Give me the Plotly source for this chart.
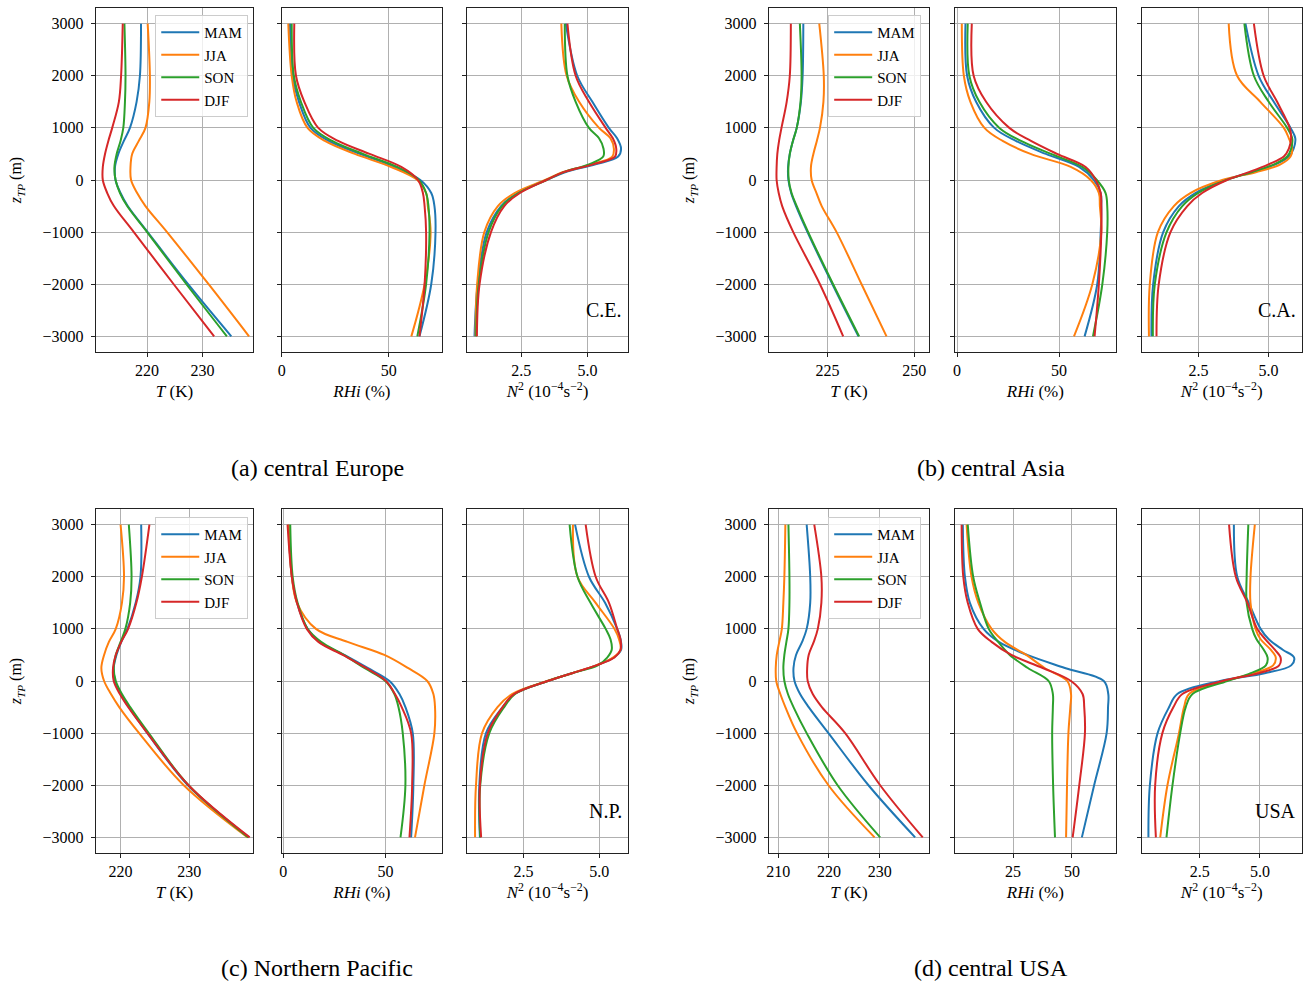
import plotly.graph_objects as go

W, H = 1307, 982
SEASONS = ["MAM", "JJA", "SON", "DJF"]
COLORS = ["#1f77b4", "#ff7f0e", "#2ca02c", "#d62728"]

# heights relative to the thermal tropopause (m)
Z = [-3000, -2000, -1000, -500, -250, 0, 250, 500, 750, 1000, 1500, 2000, 3000]
ZN = [-3000, -2000, -1000, -500, -250, 0, 150, 300, 450, 600, 800, 1000, 1500, 2000, 3000]

# ---------------- (a) central Europe ----------------
T_CE = {
    "MAM": [235.2, 227.4, 220.1, 216.5, 215.2, 214.3, 214.2, 214.8, 215.8, 216.9, 218.1, 218.7, 218.9],
    "JJA": [238.4, 231.1, 223.6, 219.7, 218.2, 217.1, 217.0, 217.3, 218.5, 219.7, 220.4, 220.5, 220.1],
    "SON": [234.4, 227.1, 220.0, 216.4, 215.1, 214.3, 214.1, 214.5, 215.2, 215.7, 216.0, 216.1, 215.9],
    "DJF": [232.1, 224.8, 217.6, 214.0, 212.8, 212.0, 212.0, 212.4, 213.0, 213.7, 214.9, 215.3, 215.6],
}
RH_CE = {
    "MAM": [64.4, 69.9, 71.9, 71.4, 69.9, 64.8, 52.8, 36.5, 22.0, 13.5, 8.1, 5.1, 3.9],
    "JJA": [60.6, 66.8, 69.6, 68.3, 67.5, 63.4, 51.2, 34.2, 20.2, 12.1, 7.0, 4.7, 3.1],
    "SON": [63.4, 67.5, 69.1, 68.6, 67.5, 64.1, 54.0, 38.0, 23.6, 14.8, 9.0, 5.7, 4.7],
    "DJF": [64.4, 66.8, 67.5, 66.8, 66.0, 63.7, 55.9, 41.1, 26.4, 17.1, 10.6, 6.7, 5.9],
}
N2_CE = {
    "MAM": [0.74, 0.86, 1.20, 1.74, 2.36, 3.45, 4.15, 5.30, 6.15, 6.26, 6.11, 5.80, 5.18, 4.61, 4.18],
    "JJA": [0.78, 0.84, 1.11, 1.62, 2.25, 3.40, 4.05, 5.15, 5.93, 5.99, 5.86, 5.43, 4.68, 4.21, 4.01],
    "SON": [0.80, 0.90, 1.27, 1.78, 2.40, 3.45, 4.10, 5.05, 5.59, 5.60, 5.43, 5.05, 4.55, 4.24, 4.14],
    "DJF": [0.83, 0.93, 1.36, 1.86, 2.45, 3.45, 4.10, 5.20, 6.03, 6.08, 5.95, 5.68, 5.05, 4.55, 4.24],
}

# ---------------- (b) central Asia ----------------
T_CA = {
    "MAM": [233.9, 226.4, 219.2, 215.9, 214.5, 213.7, 213.6, 214.1, 215.0, 216.1, 217.3, 217.8, 218.0],
    "JJA": [242.0, 234.8, 227.6, 223.3, 221.8, 220.4, 220.2, 220.9, 221.9, 222.8, 223.8, 223.9, 222.6],
    "SON": [234.1, 226.6, 219.4, 216.1, 214.6, 213.8, 213.7, 214.1, 215.0, 216.1, 217.2, 217.5, 217.0],
    "DJF": [229.5, 222.8, 215.1, 211.9, 210.9, 210.3, 210.3, 210.5, 211.0, 211.7, 213.2, 214.1, 214.4],
}
RH_CA = {
    "MAM": [62.5, 68.7, 70.4, 70.7, 70.4, 67.0, 59.8, 43.5, 28.8, 18.2, 9.3, 4.9, 4.1],
    "JJA": [57.3, 66.3, 70.7, 70.0, 69.5, 65.5, 55.7, 36.0, 22.3, 13.4, 6.5, 3.3, 2.3],
    "SON": [66.6, 71.2, 73.6, 73.6, 72.8, 68.5, 61.4, 46.0, 31.3, 20.7, 10.9, 6.0, 5.2],
    "DJF": [67.4, 69.5, 70.7, 70.7, 70.4, 68.0, 63.0, 49.0, 36.2, 25.6, 14.2, 8.1, 7.2],
}
N2_CA = {
    "MAM": [0.82, 0.88, 1.24, 1.80, 2.39, 3.46, 4.40, 5.25, 5.73, 5.90, 5.96, 5.79, 5.19, 4.65, 4.18],
    "JJA": [0.73, 0.76, 1.05, 1.62, 2.21, 3.35, 4.55, 5.43, 5.79, 5.85, 5.73, 5.55, 4.71, 3.88, 3.58],
    "SON": [0.87, 0.94, 1.36, 1.92, 2.48, 3.50, 4.40, 5.20, 5.67, 5.81, 5.85, 5.67, 5.01, 4.48, 4.14],
    "DJF": [1.00, 1.08, 1.50, 2.10, 2.63, 3.52, 4.30, 5.00, 5.55, 5.73, 5.81, 5.76, 5.31, 4.83, 4.48],
}

# ---------------- (c) Northern Pacific ----------------
T_NP = {
    "MAM": [238.7, 229.8, 223.9, 221.2, 220.0, 219.2, 219.0, 219.4, 220.1, 221.0, 222.2, 222.9, 223.0],
    "JJA": [238.5, 229.2, 222.7, 219.8, 218.6, 217.6, 217.2, 217.6, 218.3, 219.3, 220.2, 220.5, 220.0],
    "SON": [238.6, 229.9, 224.1, 221.4, 220.2, 219.3, 219.0, 219.3, 220.0, 220.7, 221.4, 221.6, 221.2],
    "DJF": [238.8, 229.9, 223.9, 221.1, 219.9, 219.0, 218.9, 219.3, 220.1, 221.1, 222.3, 223.1, 224.2],
}
RH_NP = {
    "MAM": [62.6, 63.7, 63.4, 59.8, 56.9, 52.0, 41.3, 29.9, 17.6, 11.9, 6.7, 4.2, 2.6],
    "JJA": [64.5, 69.1, 74.0, 74.3, 73.5, 70.5, 61.0, 49.5, 31.5, 16.0, 6.7, 4.2, 2.6],
    "SON": [57.4, 59.8, 58.5, 56.4, 54.4, 50.0, 39.7, 29.6, 18.5, 11.9, 7.0, 4.6, 3.4],
    "DJF": [61.8, 63.1, 62.6, 58.0, 54.7, 50.3, 40.5, 29.1, 17.2, 11.5, 6.7, 4.2, 2.1],
}
N2_NP = {
    "MAM": [1.06, 1.04, 1.26, 1.81, 2.19, 3.30, 4.10, 4.90, 5.48, 5.72, 5.70, 5.59, 5.19, 4.66, 4.20],
    "JJA": [0.90, 0.93, 1.13, 1.64, 2.12, 3.28, 4.10, 4.90, 5.45, 5.70, 5.65, 5.50, 4.88, 4.28, 4.13],
    "SON": [1.07, 1.07, 1.37, 1.86, 2.22, 3.30, 4.10, 4.95, 5.26, 5.41, 5.37, 5.21, 4.71, 4.28, 4.02],
    "DJF": [1.10, 1.06, 1.32, 1.81, 2.19, 3.30, 4.10, 4.90, 5.50, 5.70, 5.70, 5.59, 5.32, 4.88, 4.55],
}

# ---------------- (d) central USA ----------------
T_US = {
    "MAM": [237.0, 227.8, 219.9, 216.0, 214.3, 213.2, 213.0, 213.5, 214.7, 215.6, 216.3, 216.3, 215.6],
    "JJA": [229.0, 219.9, 213.7, 211.4, 210.4, 209.6, 209.5, 209.7, 210.2, 210.7, 211.0, 211.2, 211.4],
    "SON": [230.1, 221.7, 215.6, 213.0, 211.9, 211.2, 211.0, 211.2, 211.6, 212.0, 212.2, 212.2, 212.0],
    "DJF": [238.5, 230.1, 223.2, 218.6, 216.8, 215.8, 215.7, 216.0, 217.0, 217.8, 218.5, 218.5, 217.1],
}
RH_US = {
    "MAM": [54.2, 59.4, 64.7, 65.3, 65.4, 63.5, 47.0, 31.0, 19.0, 12.5, 6.7, 4.6, 3.7],
    "JJA": [47.5, 47.9, 48.5, 49.3, 49.6, 48.0, 38.4, 30.6, 21.5, 15.9, 10.3, 7.4, 5.3],
    "SON": [42.8, 42.0, 41.6, 41.9, 41.9, 40.1, 31.3, 23.6, 18.7, 14.7, 11.0, 8.1, 5.8],
    "DJF": [50.3, 53.1, 55.5, 55.2, 54.5, 49.6, 37.6, 24.3, 15.9, 10.0, 5.8, 3.9, 3.2],
}
N2_US = {
    "MAM": [0.37, 0.43, 0.75, 1.23, 1.57, 3.35, 5.20, 6.30, 6.42, 5.95, 5.37, 5.03, 4.54, 4.06, 3.92],
    "JJA": [0.86, 1.16, 1.64, 1.85, 2.06, 3.55, 4.75, 5.55, 5.66, 5.45, 5.03, 4.82, 4.61, 4.61, 4.79],
    "SON": [1.12, 1.37, 1.69, 1.92, 2.20, 3.65, 4.62, 5.25, 5.32, 5.16, 4.86, 4.68, 4.45, 4.45, 4.52],
    "DJF": [0.68, 0.65, 0.95, 1.41, 1.78, 3.45, 4.95, 5.80, 5.86, 5.62, 5.23, 4.89, 4.48, 4.00, 3.72],
}

Y_TICKS = [-3000, -2000, -1000, 0, 1000, 2000, 3000]
Y_TICKTEXT = ["−3000", "−2000", "−1000", "0", "1000", "2000", "3000"]

PANELS = [
    dict(data=[T_CE, RH_CE, N2_CE], label="C.E.", caption="(a) central Europe", col=0, row=0,
         xr=[[210.72, 239.16], [0.0, 75.0], [0.46, 6.525]],
         ticks=[[220, 230], [0, 50], [2.5, 5.0]], tt=[["220", "230"], ["0", "50"], ["2.5", "5.0"]]),
    dict(data=[T_CA, RH_CA, N2_CA], label="C.A.", caption="(b) central Asia", col=1, row=0,
         xr=[[208.0, 254.3], [-1.0, 77.7], [0.464, 6.2]],
         ticks=[[225, 250], [0, 50], [2.5, 5.0]], tt=[["225", "250"], ["0", "50"], ["2.5", "5.0"]]),
    dict(data=[T_NP, RH_NP, N2_NP], label="N.P.", caption="(c) Northern Pacific", col=0, row=1,
         xr=[[216.38, 239.32], [-0.8, 77.8], [0.636, 5.95]],
         ticks=[[220, 230], [0, 50], [2.5, 5.0]], tt=[["220", "230"], ["0", "50"], ["2.5", "5.0"]]),
    dict(data=[T_US, RH_US, N2_US], label="USA", caption="(d) central USA", col=1, row=1,
         xr=[[208.1, 239.77], [0.42, 68.5], [0.083, 6.75]],
         ticks=[[210, 220, 230], [25, 50], [2.5, 5.0]], tt=[["210", "220", "230"], ["25", "50"], ["2.5", "5.0"]]),
]

X_TITLES = ["<i>T</i> (K)", "<i>RHi</i> (%)", "<i>N</i><sup>2</sup> (10<sup>−4</sup>s<sup>−2</sup>)"]

# pixel layout of the subplots
COL_X = [[(92, 250), (278.5, 439.5), (464.5, 626)],
         [(767, 928), (954, 1115), (1141, 1302)]]
ROW_Y = [(8, 352), (509, 853)]
LEGEND_POS = {(0, 0): (245, 15), (1, 0): (920, 15), (0, 1): (245, 517), (1, 1): (920, 517)}
CAPTION_POS = {(0, 0): (314, 468), (1, 0): (990, 468), (0, 1): (314, 968), (1, 1): (990, 968)}

FONT = "Liberation Serif"
TICK_SIZE = 16
fig = go.Figure()
layout = dict(width=W, height=H, margin=dict(l=0, r=0, t=0, b=0),
              paper_bgcolor="white", plot_bgcolor="white",
              font=dict(family=FONT, size=TICK_SIZE, color="black"), annotations=[])

for p, pan in enumerate(PANELS):
    col, row = pan["col"], pan["row"]
    leg = "legend" if p == 0 else f"legend{p + 1}"
    for j in range(3):
        k = p * 3 + j + 1
        xa = f"x{k}" if k > 1 else "x"
        ya = f"y{k}" if k > 1 else "y"
        zz = ZN if j == 2 else Z
        for s, c in zip(SEASONS, COLORS):
            fig.add_trace(go.Scatter(
                x=pan["data"][j][s], y=zz, mode="lines", name=s,
                line=dict(color=c, width=2, shape="spline", smoothing=1.0),
                xaxis=xa, yaxis=ya, legend=leg, showlegend=(j == 0),
            ))
        x0, x1 = COL_X[col][j]
        y0, y1 = ROW_Y[row]
        axkey = "xaxis" if k == 1 else f"xaxis{k}"
        aykey = "yaxis" if k == 1 else f"yaxis{k}"
        common = dict(showline=True, mirror=True, linecolor="#222222", linewidth=1,
                      ticks="outside", ticklen=4, tickcolor="#222222", tickwidth=1,
                      showgrid=True, gridcolor="#b0b0b0", gridwidth=1, zeroline=False,
                      tickfont=dict(family=FONT, size=TICK_SIZE))
        layout[axkey] = dict(common, domain=[x0 / W, x1 / W], anchor=ya, range=pan["xr"][j],
                             tickmode="array", tickvals=pan["ticks"][j], ticktext=pan["tt"][j],
                             title=dict(text=X_TITLES[j], font=dict(family=FONT, size=17), standoff=6))
        ycfg = dict(common, domain=[1 - y1 / H, 1 - y0 / H], anchor=xa, range=[-3300, 3300],
                    tickmode="array", tickvals=Y_TICKS, ticktext=Y_TICKTEXT,
                    showticklabels=(j == 0), ticklabelstandoff=4)
        if j == 0:
            ycfg["title"] = dict(text="<i>z<sub>TP</sub></i> (m)", font=dict(family=FONT, size=16), standoff=16)
        layout[aykey] = ycfg
        if j == 2:
            layout["annotations"].append(dict(
                text=pan["label"], xref=f"{xa} domain", yref=f"{ya} domain", x=0.975, y=0.122,
                xanchor="right", yanchor="middle", showarrow=False, font=dict(family=FONT, size=20)))
    lx, ly = LEGEND_POS[(col, row)]
    layout[leg] = dict(x=lx / W, y=1 - ly / H, xanchor="right", yanchor="top",
                       bgcolor="rgba(255,255,255,0.8)", bordercolor="#cccccc", borderwidth=1,
                       font=dict(family=FONT, size=15), itemwidth=38, tracegroupgap=0)
    cx, cy = CAPTION_POS[(col, row)]
    layout["annotations"].append(dict(
        text=pan["caption"], xref="paper", yref="paper", x=cx / W, y=1 - cy / H,
        xanchor="center", yanchor="middle", showarrow=False, font=dict(family=FONT, size=24)))

fig.update_layout(**layout)
fig.write_html("out.html", config={"displayModeBar": False},
               post_script="document.body.style.margin='0';document.body.style.overflow='hidden';")
